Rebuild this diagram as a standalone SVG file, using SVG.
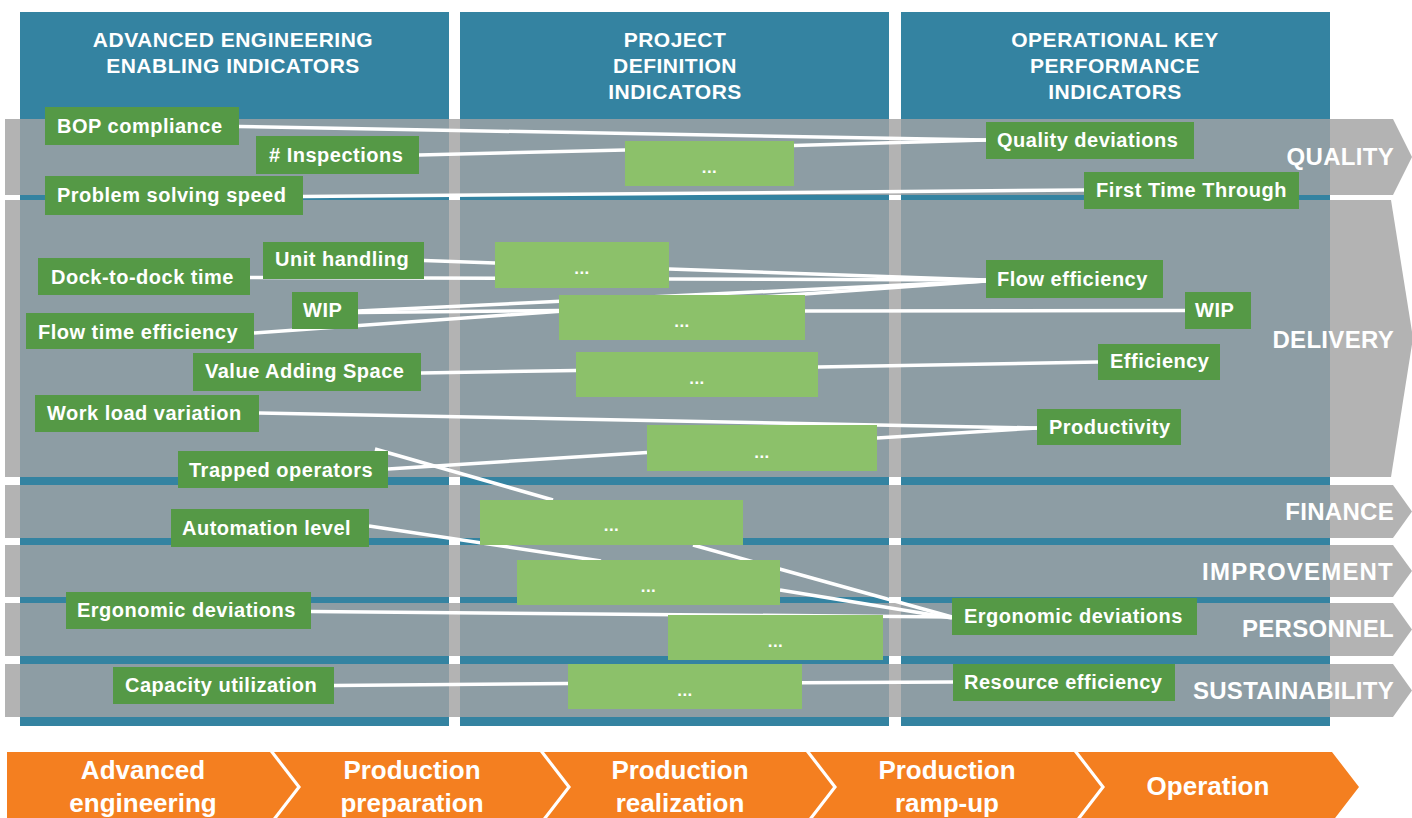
<svg xmlns="http://www.w3.org/2000/svg" width="1412" height="818" viewBox="0 0 1412 818">
<defs>
<style>
.col{fill:#3483A1}
.band{fill:#B3B3B3}
.bandin{fill:#8D9DA4}
.hdr{font-family:"Liberation Sans",Arial,sans-serif;font-weight:bold;font-size:21px;fill:#fff;letter-spacing:0.5px;text-anchor:middle}
.cat{font-family:"Liberation Sans",Arial,sans-serif;font-weight:bold;font-size:24px;fill:#fff;text-anchor:end;letter-spacing:0.3px}
.node rect{fill:#559946}
.node text{font-family:"Liberation Sans",Arial,sans-serif;font-weight:bold;font-size:20px;fill:#fff;letter-spacing:0.5px}
.ph rect{fill:#8CC16A}
.ph text{font-family:"Liberation Sans",Arial,sans-serif;font-weight:bold;font-size:17px;fill:#fff;text-anchor:middle;letter-spacing:0.5px}
.conn line{stroke:#fff;stroke-width:3.5}
.stage polygon{fill:#F47F20}
.stage text{font-family:"Liberation Sans",Arial,sans-serif;font-weight:bold;font-size:26px;fill:#fff;text-anchor:middle}
</style>
<clipPath id="cols">
<rect x="20" y="12" width="429" height="714"/>
<rect x="460" y="12" width="429" height="714"/>
<rect x="901" y="12" width="429" height="714"/>
</clipPath>
</defs>
<rect width="1412" height="818" fill="#fff"/>
<g id="bands">
<polygon class="band" points="5,119 1393,119 1412,157 1393,195 5,195"/>
<polygon class="band" points="5,200 1391,200 1413,338 1391,477 5,477"/>
<polygon class="band" points="5,485 1393,485 1412,511.5 1393,538 5,538"/>
<polygon class="band" points="5,545 1393,545 1412,571 1393,597 5,597"/>
<polygon class="band" points="5,603 1393,603 1412,629.5 1393,656 5,656"/>
<polygon class="band" points="5,664 1393,664 1412,690.5 1393,717 5,717"/>
</g>
<g id="columns">
<rect class="col" x="20" y="12" width="429" height="714"/>
<rect class="col" x="460" y="12" width="429" height="714"/>
<rect class="col" x="901" y="12" width="429" height="714"/>
<g clip-path="url(#cols)">
<rect class="bandin" x="0" y="119" width="1412" height="76"/>
<rect class="bandin" x="0" y="200" width="1412" height="277"/>
<rect class="bandin" x="0" y="485" width="1412" height="53"/>
<rect class="bandin" x="0" y="545" width="1412" height="52"/>
<rect class="bandin" x="0" y="603" width="1412" height="53"/>
<rect class="bandin" x="0" y="664" width="1412" height="53"/>
</g>
</g>
<g id="headers">
<text class="hdr" x="233" y="47">ADVANCED ENGINEERING</text>
<text class="hdr" x="233" y="73">ENABLING INDICATORS</text>
<text class="hdr" x="675" y="47">PROJECT</text>
<text class="hdr" x="675" y="73">DEFINITION</text>
<text class="hdr" x="675" y="99">INDICATORS</text>
<text class="hdr" x="1115" y="47">OPERATIONAL KEY</text>
<text class="hdr" x="1115" y="73">PERFORMANCE</text>
<text class="hdr" x="1115" y="99">INDICATORS</text>
</g>
<g id="categories">
<text class="cat" x="1394" y="165">QUALITY</text>
<text class="cat" x="1394" y="348">DELIVERY</text>
<text class="cat" x="1394" y="520">FINANCE</text>
<text class="cat" x="1394" y="580" style="letter-spacing:1.2px">IMPROVEMENT</text>
<text class="cat" x="1394" y="637">PERSONNEL</text>
<text class="cat" x="1394" y="699">SUSTAINABILITY</text>
</g>
<g id="connectors" class="conn">
<line x1="239" y1="126.5" x2="986" y2="140"/>
<line x1="419" y1="155" x2="625" y2="150"/>
<line x1="794" y1="145.5" x2="986" y2="140"/>
<line x1="303" y1="196.5" x2="1084" y2="190"/>
<line x1="424" y1="260.5" x2="495" y2="263"/>
<line x1="669" y1="269" x2="986" y2="280"/>
<line x1="250" y1="277.5" x2="495" y2="278.3"/>
<line x1="669" y1="279" x2="986" y2="280"/>
<line x1="358" y1="311" x2="986" y2="281"/>
<line x1="254" y1="333" x2="986" y2="281"/>
<line x1="358" y1="312.5" x2="559" y2="310.5"/>
<line x1="805" y1="311" x2="1185" y2="310.5"/>
<line x1="421" y1="373" x2="576" y2="370.5"/>
<line x1="818" y1="367" x2="1098" y2="362"/>
<line x1="259" y1="413" x2="1037" y2="428"/>
<line x1="388" y1="469" x2="647" y2="452.5"/>
<line x1="877" y1="438" x2="1037" y2="428"/>
<line x1="375" y1="449" x2="553" y2="500"/>
<line x1="693" y1="545" x2="952" y2="617"/>
<line x1="369" y1="526" x2="601" y2="561"/>
<line x1="780" y1="590" x2="952" y2="618"/>
<line x1="311" y1="611.5" x2="952" y2="617"/>
<line x1="334" y1="685.5" x2="568" y2="683.5"/>
<line x1="802" y1="682.7" x2="953" y2="682"/>
</g>
<g id="p0" class="ph"><rect x="625" y="141" width="169" height="45"/><text x="709.5" y="173">...</text></g>
<g id="pA" class="ph"><rect x="495" y="242" width="174" height="46"/><text x="582" y="274">...</text></g>
<g id="pB" class="ph"><rect x="559" y="295" width="246" height="45"/><text x="682" y="327">...</text></g>
<g id="pC" class="ph"><rect x="576" y="352" width="242" height="45"/><text x="697" y="384">...</text></g>
<g id="pD" class="ph"><rect x="647" y="425" width="230" height="46"/><text x="762" y="458">...</text></g>
<g id="pE" class="ph"><rect x="480" y="500" width="263" height="45"/><text x="611.5" y="531">...</text></g>
<g id="pF" class="ph"><rect x="517" y="560" width="263" height="45"/><text x="648.5" y="592">...</text></g>
<g id="pG" class="ph"><rect x="668" y="615" width="215" height="45"/><text x="775.5" y="647">...</text></g>
<g id="pH" class="ph"><rect x="568" y="664" width="234" height="45"/><text x="685" y="696">...</text></g>
<g id="n_bop" class="node"><rect x="45" y="107" width="194" height="38"/><text x="57" y="133">BOP compliance</text></g>
<g id="n_insp" class="node"><rect x="256" y="136" width="163" height="38"/><text x="269" y="162"># Inspections</text></g>
<g id="n_pss" class="node"><rect x="45" y="176" width="258" height="39"/><text x="57" y="202">Problem solving speed</text></g>
<g id="n_qd" class="node"><rect x="986" y="122" width="208" height="37"/><text x="997" y="147">Quality deviations</text></g>
<g id="n_ftt" class="node"><rect x="1084" y="172" width="215" height="37"/><text x="1096" y="197">First Time Through</text></g>
<g id="n_unit" class="node"><rect x="263" y="242" width="161" height="37"/><text x="275" y="266">Unit handling</text></g>
<g id="n_dock" class="node"><rect x="38" y="258" width="212" height="37"/><text x="51" y="284">Dock-to-dock time</text></g>
<g id="n_wipl" class="node"><rect x="292" y="292" width="66" height="37"/><text x="303" y="317">WIP</text></g>
<g id="n_fte" class="node"><rect x="26" y="313" width="228" height="36"/><text x="38" y="339">Flow time efficiency</text></g>
<g id="n_flow" class="node"><rect x="986" y="260" width="177" height="38"/><text x="997" y="286">Flow efficiency</text></g>
<g id="n_wipr" class="node"><rect x="1185" y="292" width="66" height="37"/><text x="1195" y="317">WIP</text></g>
<g id="n_vas" class="node"><rect x="193" y="353" width="228" height="38"/><text x="205" y="378">Value Adding Space</text></g>
<g id="n_eff" class="node"><rect x="1098" y="344" width="122" height="36"/><text x="1110" y="368">Efficiency</text></g>
<g id="n_wlv" class="node"><rect x="35" y="395" width="224" height="37"/><text x="47" y="420">Work load variation</text></g>
<g id="n_prod" class="node"><rect x="1037" y="409" width="144" height="36"/><text x="1049" y="434">Productivity</text></g>
<g id="n_trap" class="node"><rect x="178" y="451" width="210" height="37"/><text x="189" y="477">Trapped operators</text></g>
<g id="n_auto" class="node"><rect x="171" y="509" width="198" height="38"/><text x="182" y="535">Automation level</text></g>
<g id="n_ergol" class="node"><rect x="66" y="592" width="245" height="37"/><text x="77" y="617">Ergonomic deviations</text></g>
<g id="n_ergor" class="node"><rect x="952" y="598" width="245" height="37"/><text x="964" y="623">Ergonomic deviations</text></g>
<g id="n_cap" class="node"><rect x="113" y="667" width="221" height="37"/><text x="125" y="692">Capacity utilization</text></g>
<g id="n_res" class="node"><rect x="953" y="664" width="222" height="37"/><text x="964" y="689">Resource efficiency</text></g>
<g id="stages" class="stage">
<polygon points="7,752 270,752 297,787 270,822 7,822"/>
<polygon points="274,752 540,752 567,787 540,822 274,822 301,787"/>
<polygon points="544,752 806,752 833,787 806,822 544,822 571,787"/>
<polygon points="810,752 1074,752 1101,787 1074,822 810,822 837,787"/>
<polygon points="1078,752 1332,752 1359,787 1332,822 1078,822 1105,787"/>
<text x="143" y="779">Advanced</text><text x="143" y="812">engineering</text>
<text x="412" y="779">Production</text><text x="412" y="812">preparation</text>
<text x="680" y="779">Production</text><text x="680" y="812">realization</text>
<text x="947" y="779">Production</text><text x="947" y="812">ramp-up</text>
<text x="1208" y="795">Operation</text>
</g>
</svg>
